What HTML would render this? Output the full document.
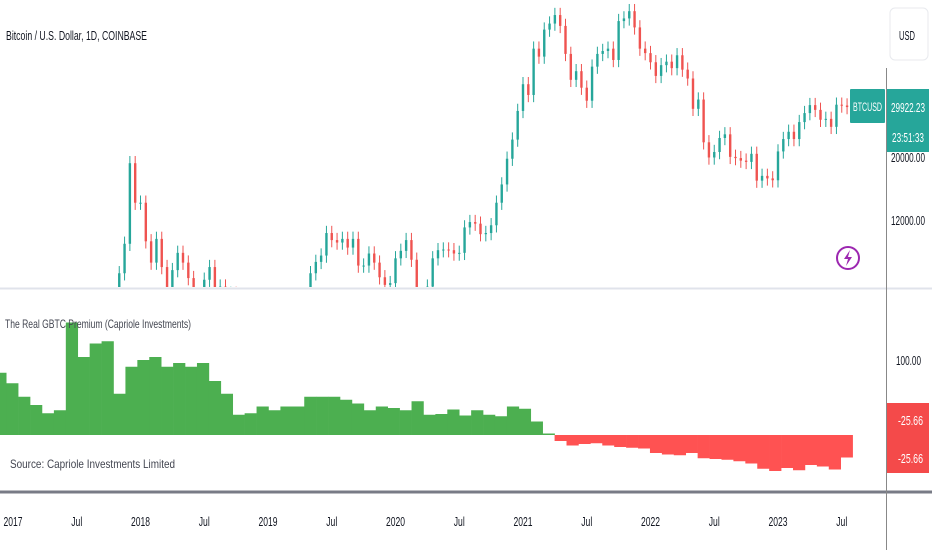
<!DOCTYPE html>
<html><head><meta charset="utf-8">
<style>
html,body{margin:0;padding:0;background:#fff;}
svg{display:block;font-family:"Liberation Sans",sans-serif;}
</style></head>
<body>
<svg id="chart" width="932" height="550" viewBox="0 0 932 550" xmlns="http://www.w3.org/2000/svg">
<rect x="0" y="0" width="932" height="550" fill="#ffffff"/>
<defs>
<clipPath id="priceClip"><rect x="0" y="0" width="886" height="287"/></clipPath>
</defs>
<g id="pricePane" clip-path="url(#priceClip)"></g>
<g id="premPane"></g>
<line x1="0" y1="288.5" x2="932" y2="288.5" stroke="#e0e3eb" stroke-width="2"/>
<line x1="0" y1="492" x2="932" y2="492" stroke="#787b86" stroke-width="3"/>
<line x1="886.5" y1="68" x2="886.5" y2="550" stroke="#888" stroke-width="1"/>
<text x="6" y="40" font-size="13" fill="#131722" textLength="141" lengthAdjust="spacingAndGlyphs">Bitcoin / U.S. Dollar, 1D, COINBASE</text>
<text x="5" y="328" font-size="12" fill="#434651" textLength="186" lengthAdjust="spacingAndGlyphs">The Real GBTC Premium (Capriole Investments)</text>
<text x="10" y="468" font-size="12" fill="#434651" textLength="165" lengthAdjust="spacingAndGlyphs">Source: Capriole Investments Limited</text>
<rect x="890" y="8" width="38" height="52" rx="5" fill="#fff" stroke="#e8eaee"/>
<text x="899" y="40" font-size="13" fill="#131722" textLength="16" lengthAdjust="spacingAndGlyphs">USD</text>
<g id="priceAxis"></g>
<rect x="850" y="89" width="35" height="34" rx="1" fill="#26a69a"/>
<text x="853" y="111" font-size="12" fill="#fff" textLength="29" lengthAdjust="spacingAndGlyphs">BTCUSD</text>
<rect x="887" y="89" width="42" height="63" fill="#26a69a"/>
<text x="891" y="112" font-size="13" fill="#fff" textLength="34" lengthAdjust="spacingAndGlyphs">29922.23</text>
<text x="892" y="142" font-size="13" fill="#fff" textLength="32" lengthAdjust="spacingAndGlyphs">23:51:33</text>
<rect x="887" y="403" width="42" height="70" fill="#f44a4a"/>
<text x="898" y="425" font-size="13" fill="#fff" textLength="25" lengthAdjust="spacingAndGlyphs">-25.66</text>
<text x="898" y="463" font-size="13" fill="#fff" textLength="25" lengthAdjust="spacingAndGlyphs">-25.66</text>
<text x="896" y="365" font-size="13" fill="#131722" textLength="25" lengthAdjust="spacingAndGlyphs">100.00</text>
<g>
<circle cx="848" cy="258" r="11" fill="none" stroke="#9c27b0" stroke-width="2"/>
<path d="M850 250 L844 259 L848 259 L846 266 L852 257 L848 257 Z" fill="#9c27b0"/>
</g>
<g id="xAxis"></g>
</svg>
<script>
// price data: semi-monthly closes from 2017.0
const priceStart = 2017.0;
const priceStep = 1/24;
const priceCloses = [900,970,1000,1190,1250,1070,1180,1350,1800,2300,2500,2500,2300,2750,4100,4350,3700,4300,5600,6400,7800,9900,19000,13800,
13800,10100,8500,10300,8200,6900,8000,9200,8500,7500,6500,6400,7400,8200,6300,7000,6500,6600,6400,6300,5600,4000,3300,3700,
3600,3450,3600,3800,3900,4100,5100,5300,7800,8550,9000,10800,10200,10000,10300,9600,10300,8300,8300,9150,8500,7550,7100,7200,
8800,9350,10200,8700,5400,6400,7000,8800,9400,9450,9400,9150,9200,11300,11800,11650,10700,10800,11500,13800,16000,19700,23000,29000,
36000,33000,48000,45000,56000,58800,63000,57700,46000,37300,40000,35000,31500,41500,46000,47100,48000,43800,60000,61300,65000,57000,48000,46300,
43000,38500,42000,43200,41000,45500,40500,37700,29500,31800,22500,19900,20800,23300,24000,20000,19800,19400,19200,20500,16500,17150,16800,16550,
20900,23100,24500,23100,26500,28500,30400,29250,27000,27200,25500,30500,30300,29922];
const priceTicks = [12000,20000];
const priceTickLabels = ["12000.00","20000.00"];
// premium data (%), ~monthly from late 2016
const premStart = 2016.9;
const premStep = 0.0935;
const premValues = [83,69,51,40,29,33,150,104,122,125,55,91,100,104,91,96,91,96,72,55,27,29,38,33,38,38,51,51,51,47,42,33,38,36,33,45,27,28,34,26,33,27,25,38,35,18,2,-8,-14,-12,-11,-14,-16,-17,-18,-24,-26,-27,-24,-31,-32,-33,-35,-38,-45,-48,-44,-47,-40,-42,-46,-30];
const xTickLabels = ["2017","Jul","2018","Jul","2019","Jul","2020","Jul","2021","Jul","2022","Jul","2023","Jul"];
const xTickDates = [2017,2017.5,2018,2018.5,2019,2019.5,2020,2020.5,2021,2021.5,2022,2022.5,2023,2023.5];

const NS="http://www.w3.org/2000/svg";
function xS(t){return 13+(t-2017)*127.5;}
function yP(p){return 220-Math.log(p/12000)*123.6;}
function yQ(v){return 435-v*0.75;}
function mk(tag,attrs,parent){const e=document.createElementNS(NS,tag);for(const k in attrs)e.setAttribute(k,attrs[k]);parent.appendChild(e);return e;}

const pp=document.getElementById('pricePane');
for(let i=0;i<priceCloses.length;i++){
  const o=i>0?priceCloses[i-1]:priceCloses[i];
  const c=priceCloses[i];
  const x=xS(priceStart+i*priceStep);
  const col=c>=o?'#26a69a':'#ef5350';
  const hi=Math.max(o,c),lo=Math.min(o,c);
  const w=mk('line',{x1:x,x2:x,y1:yP(hi*1.06),y2:yP(lo/1.06),stroke:col,'stroke-width':1},pp);
  
  
  const r=mk('rect',{x:x-1.2,width:2.4,y:yP(hi),height:Math.max(1,yP(lo)-yP(hi)),fill:col},pp);
  
  
}
const pa=document.getElementById('priceAxis');
priceTicks.forEach((p,i)=>{
  const t=mk('text',{x:891,y:yP(p)+5,'font-size':13,fill:'#131722',textLength:34,lengthAdjust:'spacingAndGlyphs'},pa);
  t.textContent=priceTickLabels[i];
  
  
});
const qp=document.getElementById('premPane');
const bw=premStep*127.5;
premValues.forEach((v,i)=>{
  const x=xS(premStart+i*premStep)-bw/2;
  const y0=yQ(0),y1=yQ(v);
  const r=mk('rect',{x:x,width:bw+0.3,y:Math.min(y0,y1),height:Math.abs(y1-y0),fill:v>=0?'#4caf50':'#ff5252'},qp);
  
  
});
const xa=document.getElementById('xAxis');
xTickDates.forEach((d,i)=>{
  const t=mk('text',{x:xS(d),y:526,'font-size':13,fill:'#131722','text-anchor':'middle',textLength:xTickLabels[i].length>3?19:11,lengthAdjust:'spacingAndGlyphs'},xa);
  t.textContent=xTickLabels[i];
  
  
});
</script>
</body></html>
